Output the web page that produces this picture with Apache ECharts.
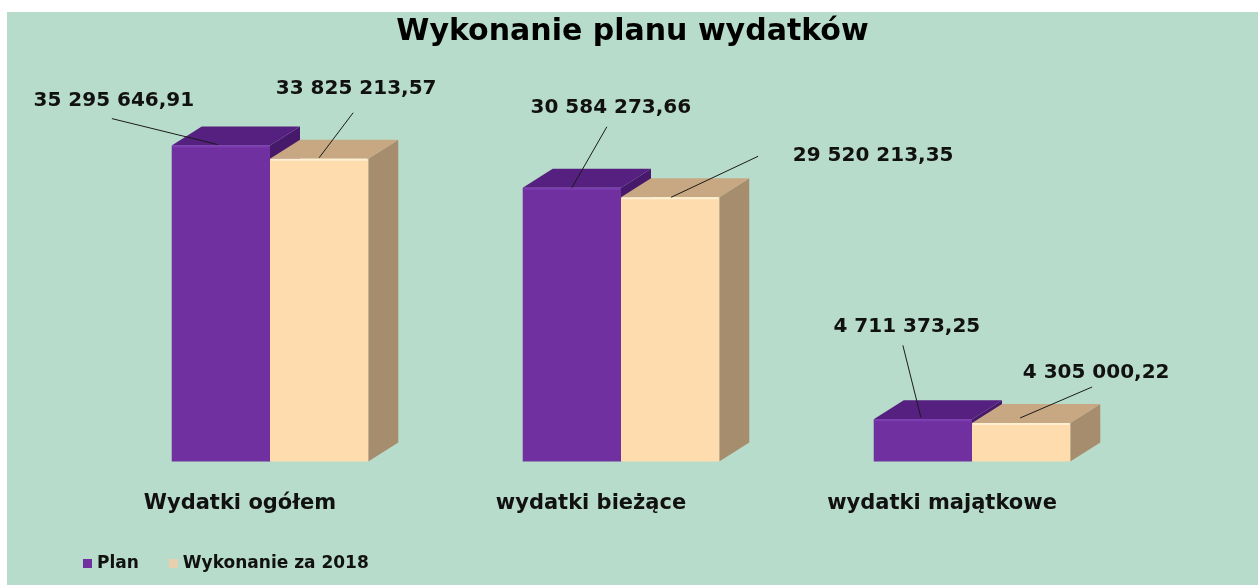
<!DOCTYPE html>
<html>
<head>
<meta charset="utf-8">
<script src="https://cdn.jsdelivr.net/npm/echarts@6/dist/echarts.min.js"></script>
<style>
  html, body { margin: 0; padding: 0; background: #fff; }
  #box { position: absolute; left: 7px; top: 12px; width: 1251px; height: 573px; }
</style>
</head>
<body>
<div id="box"></div>
<script>
const categories = ['Wydatki ogółem', 'wydatki bieżące', 'wydatki majątkowe']
const seriesNames = ['Plan', 'Wykonanie za 2018']
const planValues = [35295646.91, 30584273.66, 4711373.25]
const wykonanieValues = [33825213.57, 29520213.35, 4305000.22]

// label placement per series / category: text dx, dy, line start dx, dy, line end dx, dy
const labelLayout = [
  [[-107, -45, -109, -27, -3, -1], [39, -80, 35, -61, 0, 0], [-16, -93, -20, -74, -2, -2]],
  [[37, -70, 34, -46, 0, -1], [203, -41, 88, -41, 1, 0], [75, -50, 71, -36, -1, -5]]
]

const faceColors = [
  { front: '#7030a0', top: '#55207f', side: '#47196b', edge: '#7e3cb2' },
  { front: '#fedcae', top: '#c8a882', side: '#a68d6e', edge: '#fff0d4' }
]

function fmt(v) {
  const parts = v.toFixed(2).split('.')
  return parts[0].replace(/\B(?=(\d{3})+(?!\d))/g, ' ') + ',' + parts[1]
}

function renderBar(params, api) {
  const s = params.seriesIndex
  const ci = api.value(0)
  const base = api.coord([ci, 0])
  const top = api.coord([ci, api.value(1)])
  const band = api.size([1, 0])[0]
  const w = band * 0.28
  const x0 = s === 0 ? base[0] - w : base[0]
  const x1 = x0 + w
  const y0 = top[1]
  const y1 = base[1]
  const dx = 30
  const dy = -19
  const c = faceColors[s]
  const L = labelLayout[s][ci]
  const ax = (x0 + x1) / 2
  const ay = y0
  return {
    type: 'group',
    children: [
      { type: 'polygon', shape: { points: [[x1, y0], [x1 + dx, y0 + dy], [x1 + dx, y1 + dy], [x1, y1]] }, style: { fill: c.side } },
      { type: 'polygon', shape: { points: [[x0, y0], [x1, y0], [x1 + dx, y0 + dy], [x0 + dx, y0 + dy]] }, style: { fill: c.top } },
      { type: 'rect', shape: { x: x0, y: y0, width: w, height: y1 - y0 }, style: { fill: c.front } },
      { type: 'line', shape: { x1: x0 + 1, y1: y0 + 1, x2: x1 - 1, y2: y0 + 1 }, style: { stroke: c.edge, lineWidth: 2 } },
      { type: 'line', shape: { x1: ax + L[2], y1: ay + L[3], x2: ax + L[4], y2: ay + L[5] }, style: { stroke: '#1a1a1a', lineWidth: 1 } },
      {
        type: 'text',
        style: {
          x: ax + L[0], y: ay + L[1], text: fmt(api.value(1)),
          font: 'bold 20px "DejaVu Sans"', fill: '#111',
          align: 'center', verticalAlign: 'middle'
        }
      }
    ]
  }
}

const myChart = echarts.init(document.getElementById('box'))
myChart.setOption({
  animation: false,
  backgroundColor: '#b8dccb',
  title: {
    text: 'Wykonanie planu wydatków',
    left: 'center',
    top: 0,
    textStyle: { fontFamily: 'DejaVu Sans', fontWeight: 'bold', fontSize: 30, color: '#000' }
  },
  legend: {
    data: seriesNames,
    left: 71,
    top: 538,
    icon: 'rect',
    itemWidth: 9,
    itemHeight: 9,
    itemGap: 30,
    textStyle: { fontFamily: 'DejaVu Sans', fontWeight: 'bold', fontSize: 17, color: '#111' }
  },
  grid: { left: 87.5, right: 110.5, top: 91.5, bottom: 123.5 },
  xAxis: {
    type: 'category',
    data: categories,
    axisLine: { show: false },
    axisTick: { show: false },
    axisLabel: {
      margin: 32,
      padding: [0, 60, 0, 0],
      fontFamily: 'DejaVu Sans',
      fontWeight: 'bold',
      fontSize: 21,
      color: '#111'
    }
  },
  yAxis: { type: 'value', min: 0, max: 40000000, show: false },
  series: [
    {
      name: seriesNames[0],
      type: 'custom',
      renderItem: renderBar,
      itemStyle: { color: '#7030a0' },
      data: planValues.map((v, i) => [i, v])
    },
    {
      name: seriesNames[1],
      type: 'custom',
      renderItem: renderBar,
      itemStyle: { color: '#e8cfae' },
      data: wykonanieValues.map((v, i) => [i, v])
    }
  ]
})
</script>
</body>
</html>
